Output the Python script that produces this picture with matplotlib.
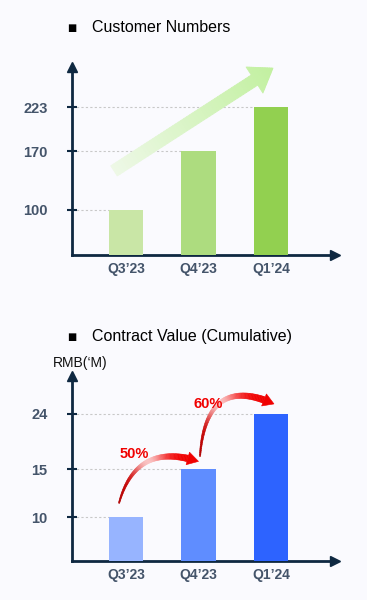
import numpy as np
import matplotlib
matplotlib.use("Agg")
import matplotlib.pyplot as plt
from matplotlib.collections import PolyCollection
from matplotlib.patches import Polygon

# ---------------- data ----------------
quarters = ["Q3\u201923", "Q4\u201923", "Q1\u201924"]
customers = [100, 170, 223]
contract_value = [10, 15, 24]
growth_labels = ["50%", "60%"]
title_top = "Customer Numbers"
title_bottom = "Contract Value (Cumulative)"
unit_label = "RMB(\u2018M)"

green_colors = ["#C9E6A6", "#ADDC7F", "#92D050"]
blue_colors = ["#97B4FF", "#5F8DFF", "#2D63FF"]

W, H, DPI = 367, 600, 100
BG = "#FAFAFE"
AX_COL = "#0E2841"
TICK_COL = "#44546A"

plt.rcParams["font.family"] = ["Liberation Sans", "DejaVu Sans"]

fig = plt.figure(figsize=(W / DPI, H / DPI), dpi=DPI, facecolor=BG)

def px_axes(left, right, top, bottom):
    return fig.add_axes([left / W, 1 - bottom / H, (right - left) / W, (bottom - top) / H])

ax1 = px_axes(72, 335, 67, 255)
ax2 = px_axes(72, 335, 376, 561)

xpos = np.arange(len(quarters))
bw = 0.48

def style_axis(ax):
    ax.set_facecolor("none")
    for s in ["top", "right"]:
        ax.spines[s].set_visible(False)
    for s in ["left", "bottom"]:
        ax.spines[s].set_color(AX_COL)
        ax.spines[s].set_linewidth(2.0)
    ax.plot([0], [1], marker="^", ms=7, color=AX_COL, transform=ax.transAxes, clip_on=False, zorder=5)
    ax.plot([1], [0], marker=">", ms=7, color=AX_COL, transform=ax.transAxes, clip_on=False, zorder=5)
    ax.tick_params(axis="y", direction="inout", length=7, width=1.5, color=AX_COL,
                   labelsize=10.5, labelcolor=TICK_COL, pad=14)
    ax.tick_params(axis="x", length=0, labelsize=10, labelcolor=TICK_COL, pad=5)
    ax.set_xlim(-0.745, 2.883)
    ax.set_xticks(xpos)
    ax.set_xticklabels(quarters, fontweight="bold")

# ---------- top chart ----------
ax1.set_ylim(46, 271)
ax1.bar(xpos, customers, width=bw, color=green_colors, zorder=3)
ax1.set_yticks(customers)
ax1.set_yticklabels([str(v) for v in customers], fontweight="bold")
for i, v in enumerate(customers):
    ax1.hlines(v, -0.745, xpos[i] - bw / 2, colors="#C8C8C8", linestyles=(0, (2, 2)), lw=0.8, zorder=1)
style_axis(ax1)

# ---------- bottom chart ----------
ax2.set_yscale("log")
ax2.set_ylim(6.9, 33.1)
ax2.bar(xpos, contract_value, width=bw, color=blue_colors, zorder=3)
ax2.set_yticks(contract_value)
ax2.yaxis.set_minor_locator(matplotlib.ticker.NullLocator())
ax2.set_yticklabels([str(v) for v in contract_value], fontweight="bold")
for i, v in enumerate(contract_value):
    ax2.hlines(v, -0.745, xpos[i] - bw / 2, colors="#C8C8C8", linestyles=(0, (2, 2)), lw=0.8, zorder=1)
style_axis(ax2)
ax2.set_ylim(6.9, 33.1)

# ---------- titles ----------
def title(y_px, text):
    fig.text(67 / W, 1 - (y_px + 1) / H, "\u25A0", fontsize=7, color="black", va="center", ha="left",
             family=["DejaVu Sans"])
    fig.text(92 / W, 1 - y_px / H, text, fontsize=11.5, color="black", va="center", ha="left")

title(27, title_top)
title(336, title_bottom)
fig.text(80 / W, 1 - 363 / H, unit_label, fontsize=10, color="#111111", va="center", ha="center")

# ---------- overlay for decorative arrows (pixel coords) ----------
ov = fig.add_axes([0, 0, 1, 1], zorder=10)
ov.set_xlim(0, W)
ov.set_ylim(0, H)
ov.axis("off")
ov.patch.set_alpha(0)

fig.canvas.draw()

def bar_top(ax, i, v):
    return ax.transData.transform((xpos[i], v))

def mix(c1, c2, t):
    c1 = np.array(matplotlib.colors.to_rgb(c1)); c2 = np.array(matplotlib.colors.to_rgb(c2))
    return tuple(c1 * (1 - t) + c2 * t)

# green gradient arrow
p0 = bar_top(ax1, 0, customers[0]) + np.array([-12, 39])
p1 = bar_top(ax1, 2, customers[2]) + np.array([2, 39])
d = p1 - p0
L = np.hypot(*d)
u = d / L
n = np.array([-u[1], u[0]])
shaft_w, head_w, head_l = 12, 31, 22
polys, cols = [], []
for a, b in zip(np.linspace(0, L - head_l, 51)[:-1], np.linspace(0, L - head_l, 51)[1:]):
    pa, pb = p0 + u * a, p0 + u * b
    hw = shaft_w / 2
    polys.append([pa + n * hw, pb + n * hw, pb - n * hw, pa - n * hw])
    cols.append(mix("#EEF8E7", "#C2F0A0", (a + b) / 2 / L))
hs = np.linspace(L - head_l, L, 16)
for a, b in zip(hs[:-1], hs[1:]):
    wa = head_w / 2 * (L - a) / head_l
    wb = head_w / 2 * (L - b) / head_l
    pa, pb = p0 + u * a, p0 + u * b
    polys.append([pa + n * wa, pb + n * wb, pb - n * wb, pa - n * wa])
    cols.append(mix("#EEF8E7", "#C2F0A0", (a + b) / 2 / L))
ov.add_collection(PolyCollection(polys, facecolors=cols, edgecolors=cols, linewidths=0.6, zorder=2))

# red tapered curved arrows
def curved_arrow(P0, P1, P2, label, label_xy):
    P0, P1, P2 = map(np.array, (P0, P1, P2))
    def bez(t):
        return (1 - t) ** 2 * P0 + 2 * (1 - t) * t * P1 + t ** 2 * P2
    def dbez(t):
        return 2 * (1 - t) * (P1 - P0) + 2 * t * (P2 - P1)
    ts = np.linspace(0, 1, 80)
    pts = np.array([bez(t) for t in ts])
    tang = np.array([dbez(t) for t in ts])
    tang = tang / np.linalg.norm(tang, axis=1)[:, None]
    nor = np.stack([-tang[:, 1], tang[:, 0]], axis=1)
    head_len, headw = 10, 6.5
    seglen = np.r_[0, np.cumsum(np.linalg.norm(np.diff(pts, axis=0), axis=1))]
    total = seglen[-1]
    idx = np.where(seglen <= total - head_len)[0]
    polys, cols = [], []
    for k in idx[:-1]:
        f0 = seglen[k] / total; f1 = seglen[k + 1] / total
        w0 = 0.6 + 3.0 * f0; w1 = 0.6 + 3.0 * f1
        polys.append([pts[k] + nor[k] * w0, pts[k + 1] + nor[k + 1] * w1,
                      pts[k + 1] - nor[k + 1] * w1, pts[k] - nor[k] * w0])
        fade = 0.8 * np.exp(-((f0 - 0.5) / 0.17) ** 2)
        base_c = mix("#B00000", "#F00000", min(1, f0 * 1.6))
        cols.append(mix(base_c, "#FFF2F2", fade))
    ov.add_collection(PolyCollection(polys, facecolors=cols, edgecolors=cols, linewidths=0.4, zorder=4))
    base = pts[idx[-1]]
    tip = P2
    dirv = (tip - base) / np.linalg.norm(tip - base)
    nv = np.array([-dirv[1], dirv[0]])
    ov.add_patch(Polygon([base + nv * headw, tip, base - nv * headw], closed=True,
                         facecolor="#F00000", edgecolor="#F00000", lw=0.4, zorder=4))
    ov.text(label_xy[0], label_xy[1], label, color="#F00000", fontsize=10.5, fontweight="bold",
            ha="center", va="center", zorder=6)

b1 = bar_top(ax2, 0, contract_value[0])
b2 = bar_top(ax2, 1, contract_value[1])
b3 = bar_top(ax2, 2, contract_value[2])
curved_arrow(b1 + [-7, 14], b1 + [10, 76], b2 + [0, 8], growth_labels[0], b1 + [8, 63])
curved_arrow(b2 + [1.5, 13], b2 + [7.5, 96], b3 + [3, 10], growth_labels[1], b2 + [10, 65])

fig.savefig("out.png", dpi=DPI, facecolor=BG)
